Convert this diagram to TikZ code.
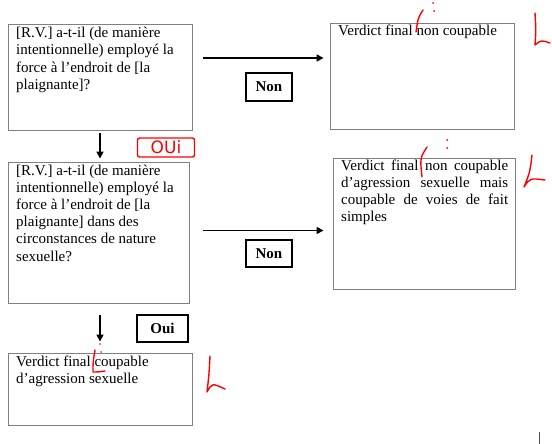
\documentclass[tikz,border=0pt]{standalone}
\usepackage{fontspec}
\setmainfont{Liberation Serif}
\newfontfamily\handfont{DejaVu Sans}
\usetikzlibrary{arrows.meta}
\begin{document}
\begin{tikzpicture}[x=1bp,y=-1bp,
  box/.style={draw=black!50, line width=0.9bp, inner sep=0pt},
  txt/.style={anchor=north west, inner sep=0pt, align=left, font=\fontsize{15bp}{17.2bp}\selectfont},
  tag/.style={draw=black, line width=1.1bp, inner sep=0pt, font=\fontsize{15bp}{17bp}\selectfont\bfseries},
  arr/.style={line width=1.6bp, -{Triangle[length=7bp,width=7bp]}},
  redmark/.style={draw=red, line width=1.4bp, line cap=round, line join=round}]
\useasboundingbox (0,0) rectangle (552,444);
% boxes
\node[box, minimum width=184bp, minimum height=106bp] (q1) at (100,77) {};
\node[box, minimum width=184bp, minimum height=106bp] (v1) at (422,76) {};
\node[box, minimum width=181bp, minimum height=141bp] (q2) at (98.5,232.5) {};
\node[box, minimum width=182bp, minimum height=131bp] (v2) at (424,223.5) {};
\node[box, minimum width=184bp, minimum height=72bp] (v3) at (100,389) {};
% texts
\node[txt] (t1) at (16,27) {[R.V.] a-t-il (de manière\\intentionnelle) employé la\\force à l’endroit de [la\\plaignante]?};
\node[txt] (t2) at (338,24.5) {Verdict final non coupable};
\node[txt] (t3) at (16,164.5) {[R.V.] a-t-il (de manière\\intentionnelle) employé la\\force à l’endroit de [la\\plaignante] dans des\\circonstances de nature\\sexuelle?};
\node[txt] (t4) at (341,159.5) {\makebox[167bp][s]{Verdict final non coupable}\\\makebox[167bp][s]{d’agression sexuelle mais}\\\makebox[167bp][s]{coupable de voies de fait}\\simples};
\node[txt] (t5) at (16,355.5) {Verdict final coupable\\d’agression sexuelle};
% tags
\node[tag, minimum width=46bp, minimum height=28bp] (n1) at (269,87) {Non};
\node[tag, minimum width=46bp, minimum height=27bp] (n2) at (269,253.5) {Non};
\node[tag, minimum width=51bp, minimum height=27bp] (o1) at (162.5,328.5) {Oui};
% arrows
\coordinate (a1) at (203,58);
\coordinate (a2) at (203,230.5);
\draw[arr, shorten >=6bp] (a1) -- (a1 -| v1.west);
\draw[arr, shorten >=9bp] (a2) -- (a2 -| v2.west);
\draw[arr, shorten <=3bp, shorten >=3bp] (q1.south) -- (q1.south |- q2.north);
\draw[arr, shorten <=12bp, shorten >=11bp] (q1.south |- q2.south) -- (q1.south |- v3.north);
% red handwritten annotations
\node[draw=red, line width=1.4bp, rounded corners=2bp, minimum width=57bp, minimum height=19bp, inner sep=0pt, text=red, font=\handfont\fontsize{17bp}{17bp}\selectfont] (oui) at (166,147.5) {OUi};
\draw[redmark] (423,10) .. controls (418,18) .. (416,32);
\fill[red] (433,3) circle (1bp) (434,11) circle (1bp);
\draw[redmark] (535,13) .. controls (536,30) .. (535,45) .. controls (541,40) .. (550,43);
\draw[redmark] (427,147) .. controls (420,158) .. (422,177);
\fill[red] (447,140) circle (1bp) (447,148) circle (1bp);
\draw[redmark] (532,155) .. controls (530,172) .. (524,187) .. controls (530,178) .. (545,180);
\draw[redmark] (95,350) .. controls (93,362) .. (93,372) .. controls (98,372) .. (105,371);
\fill[red] (100,344) circle (0.9bp) (101,352) circle (0.9bp);
\draw[redmark] (210,356) .. controls (209,375) .. (207,392) .. controls (212,383) .. (225,389);
% cursor mark
\draw[black!70, line width=0.8bp] (539,432) -- (539,444);
\end{tikzpicture}
\end{document}
